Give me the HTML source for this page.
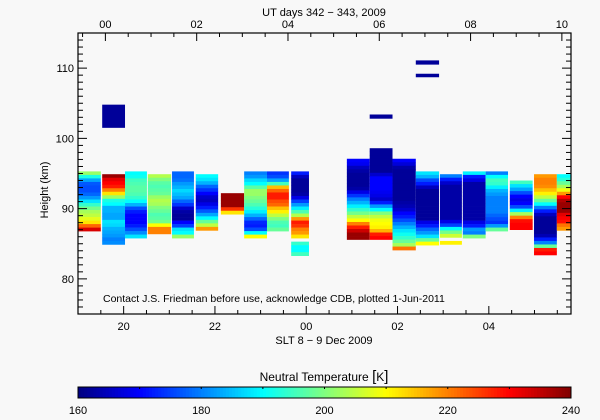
<!DOCTYPE html>
<html><head><meta charset="utf-8">
<style>
html,body{margin:0;padding:0;background:#f8f8f8;}
svg{display:block;font-family:"Liberation Sans",sans-serif;}
</style></head>
<body>
<svg id="chart" width="600" height="420" viewBox="0 0 600 420" xmlns="http://www.w3.org/2000/svg">
<rect x="0" y="0" width="600" height="420" fill="#f8f8f8"/>
<g id="cells"></g>
<g id="axes"></g>
<text x="324" y="16" font-size="11" text-anchor="middle">UT days 342 − 343, 2009</text>
<text x="324" y="344" font-size="11" text-anchor="middle">SLT 8 − 9 Dec 2009</text>
<text x="48" y="190" font-size="11" text-anchor="middle" transform="rotate(-90 48 190)">Height (km)</text>
<text x="103" y="302" font-size="10.5">Contact J.S. Friedman before use, acknowledge CDB, plotted 1-Jun-2011</text>
<text x="324" y="381" font-size="12" text-anchor="middle">Neutral Temperature <tspan font-size="15">[</tspan>K<tspan font-size="15">]</tspan></text>
<g id="cbar"></g>
</svg>
<script>
// ---- data ----
const colStart = [-0.60,-0.07,0.43,0.93,1.46,1.98,2.53,3.04,3.54,4.07,5.29,5.79,6.29,6.80,7.33,7.83,8.33,8.86,9.39,9.89];
const colEnd   = [-0.10,0.43,0.91,1.44,1.94,2.47,3.04,3.54,4.02,4.46,5.79,6.29,6.80,7.31,7.81,8.33,8.82,9.36,9.89,10.25];
const colTop   = [95.3,94.9,95.3,94.9,95.3,94.9,92.2,95.3,95.3,95.3,97.1,98.6,97.1,95.3,94.9,95.3,95.3,94.0,94.9,94.9];
const colTemps = [
 [202,192,183,177,176,176,178,182,188,194,199,203,205,208,212,222,233],
 [238,232,230,228,220,212,202,192,190,184,184,183,183,188,187,184,183,182,180,181],
 [190,191,195,196,197,197,196,194,190,184,176,172,170,170,170,172,176,181,188],
 [204,200,197,196,197,198,202,204,203,200,198,196,197,199,210,220,220],
 [178,178,179,182,184,187,185,183,178,174,166,163,162,162,170,175,188,190,202],
 [190,188,184,178,174,170,166,165,168,172,177,183,190,198,205,218],
 [238,238,238,238,226,212],
 [180,182,187,190,197,202,202,200,198,196,193,189,184,178,173,172,176,190,210],
 [174,176,183,195,215,222,228,228,224,222,215,211,205,200,196,195,198],
 [172,165,162,162,162,162,163,168,175,182,189,196,204,218,228,226,220,218,212,null,194,190,190,195],
 [170,169,165,163,162,162,162,162,163,168,174,180,184,189,194,199,205,210,220,228,234,238,238],
 [162,162,162,162,162,162,162,166,170,170,170,170,169,168,166,172,182,190,200,205,209,210,211,216,228,230],
 [170,167,163,162,162,162,162,162,162,162,162,162,163,164,166,170,172,176,180,184,188,191,194,198,203,221],
 [188,184,176,172,165,162,162,162,162,162,162,162,162,162,168,172,178,182,188,198,210],
 [180,172,166,163,163,163,163,163,163,163,163,163,163,168,175,190,199,206,null,211],
 [189,172,168,163,163,163,163,163,163,163,163,163,163,163,168,172,182,180,200],
 [180,190,195,194,189,184,182,180,180,180,180,180,178,176,174,182,198],
 [195,188,183,176,170,168,170,176,189,203,220,229,230,230],
 [218,220,220,219,215,211,205,198,190,180,172,165,162,162,162,162,162,164,172,180,198,228,230],
 [190,193,198,203,209,218,230,236,238,238,238,232,230,229,221,218]
];
const extraCol  = [1,11,13,13];
const extraTop  = [104.8,103.4,111.1,109.2];
const extraBot  = [101.5,102.8,110.5,108.7];
const extraTemp = [162,162,162,162];
const yTicks = [80,90,100,110];
const utTicks = [0,2,4,6,8,10];
const utLabels = ["00","02","04","06","08","10"];
const sltTicks = [20,22,24,26,28];
const sltLabels = ["20","22","00","02","04"];
const cbTicks = [160,180,200,220,240];

// ---- scales ----
const X0=78,X1=571,Y0=33,Y1=314;
const T0=-0.6,T1=10.2,H0=75,H1=115;
const xs=t=>X0+(t-T0)/(T1-T0)*(X1-X0);
const ys=h=>Y1-(h-H0)/(H1-H0)*(Y1-Y0);
const SLT_OFF=4.4; // SLT = UT - 4.4 (+24)
const xslt=s=>xs(s-24+SLT_OFF);
const TMIN=160,TMAX=240;
function jet(T){
  const v=Math.max(0,Math.min(1,(T-TMIN)/(TMAX-TMIN)));
  const c=a=>Math.round(255*Math.max(0,Math.min(1,1.5-Math.abs(4*v-a))));
  return `rgb(${c(3)},${c(2)},${c(1)})`;
}
const NS="http://www.w3.org/2000/svg";
function mk(tag,attrs,parent){const e=document.createElementNS(NS,tag);for(const k in attrs)e.setAttribute(k,attrs[k]);parent.appendChild(e);return e;}

const cells=document.getElementById('cells');
const BIN=0.5;
colTemps.forEach((arr,i)=>{
  const xa=Math.max(X0,xs(colStart[i])), xb=Math.min(X1,xs(colEnd[i]));
  arr.forEach((T,j)=>{
    if(T===null)return;
    const ht=colTop[i]-j*BIN, hb=ht-BIN;
    const r=mk('rect',{x:xa,y:ys(ht),width:xb-xa,height:ys(hb)-ys(ht)+0.3,fill:jet(T)},cells);
    
    
  });
});
extraCol.forEach((ci,k)=>{
  const xa=Math.max(X0,xs(colStart[ci])), xb=Math.min(X1,xs(colEnd[ci]));
  const r=mk('rect',{x:xa,y:ys(extraTop[k]),width:xb-xa,height:ys(extraBot[k])-ys(extraTop[k]),fill:jet(extraTemp[k])},cells);
  
  
});

// ---- axes ----
const ax=document.getElementById('axes');
const fr=mk('rect',{x:X0,y:Y0,width:X1-X0,height:Y1-Y0,fill:'none',stroke:'#000','stroke-width':1.2},ax);


for(let h=76;h<=115;h++){
  const y=ys(h), L=(h%10===0)?9:5;
  mk('line',{x1:X0,x2:X0+L,y1:y,y2:y,stroke:'#000'},ax);
  mk('line',{x1:X1,x2:X1-L,y1:y,y2:y,stroke:'#000'},ax);
}
yTicks.forEach(h=>{
  const t=mk('text',{x:X0-4,y:ys(h)+4,'font-size':11,'text-anchor':'end'},ax);
  t.textContent=h;
  
  
});
for(let t=-0.5;t<=10.2;t+=0.5){
  const x=xs(t), L=(Math.abs(t%2)<1e-6)?8:4;
  mk('line',{x1:x,x2:x,y1:Y0,y2:Y0+L,stroke:'#000'},ax);
}
utTicks.forEach((t,i)=>{
  const e=mk('text',{x:xs(t),y:28,'font-size':11,'text-anchor':'middle'},ax);
  e.textContent=utLabels[i];
  
  
});
for(let s=19.5;s<=30;s+=0.5){
  const x=xslt(s); if(x<X0||x>X1)continue;
  const L=(Math.abs(s%2)<1e-6)?8:4;
  mk('line',{x1:x,x2:x,y1:Y1,y2:Y1-L,stroke:'#000'},ax);
}
sltTicks.forEach((s,i)=>{
  const e=mk('text',{x:xslt(s),y:330,'font-size':11,'text-anchor':'middle'},ax);
  e.textContent=sltLabels[i];
  
  
});

// ---- colorbar ----
const cb=document.getElementById('cbar');
const CB0=78,CB1=571,CBY=387,CBH=11;
const N=160;
for(let k=0;k<N;k++){
  const x=CB0+k*(CB1-CB0)/N;
  const r=mk('rect',{x:x,y:CBY,width:(CB1-CB0)/N+0.5,height:CBH,fill:jet(TMIN+(k+0.5)/N*(TMAX-TMIN))},cb);
  
  
}
mk('rect',{x:CB0,y:CBY,width:CB1-CB0,height:CBH,fill:'none',stroke:'#000','stroke-width':1},cb);
for(let T=170;T<240;T+=10){const x=CB0+(T-TMIN)/(TMAX-TMIN)*(CB1-CB0);mk('line',{x1:x,x2:x,y1:CBY,y2:CBY+2,stroke:'#000'},cb);}
cbTicks.forEach(T=>{
  const e=mk('text',{x:CB0+(T-TMIN)/(TMAX-TMIN)*(CB1-CB0),y:414,'font-size':11,'text-anchor':'middle'},cb);
  e.textContent=T;
  
  
});
</script>
</body></html>
